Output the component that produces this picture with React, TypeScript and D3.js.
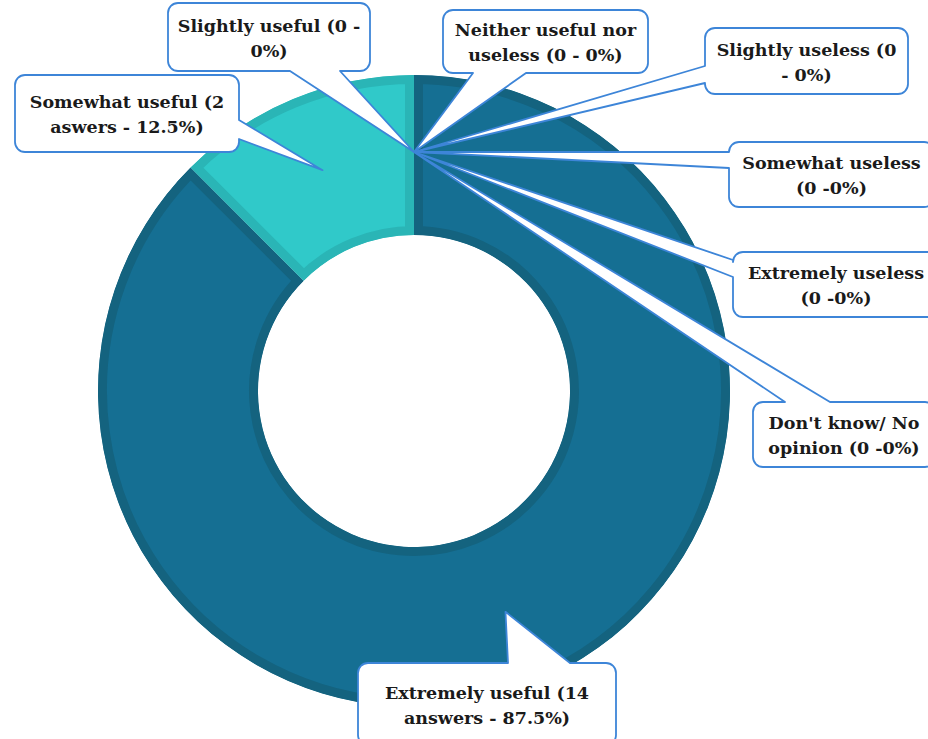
import React from "react";
import * as d3 from "d3";

// answers per category
const categories = [
  "Extremely useful",
  "Somewhat useful",
  "Slightly useful",
  "Neither useful nor useless",
  "Slightly useless",
  "Somewhat useless",
  "Extremely useless",
  "Don't know/ No opinion",
];
const answers = [14, 2, 0, 0, 0, 0, 0, 0];
const labelLines = [
  ["Extremely useful (14", "answers - 87.5%)"],
  ["Somewhat useful (2", "aswers - 12.5%)"],
  ["Slightly useful (0 -", "0%)"],
  ["Neither useful nor", "useless (0 - 0%)"],
  ["Slightly useless (0", "- 0%)"],
  ["Somewhat useless", "(0 -0%)"],
  ["Extremely useless", "(0 -0%)"],
  ["Don't know/ No", "opinion (0 -0%)"],
];

// callout boxes: x, y, w, h, side of the pointer, pointer base from / to
const callouts = [
  { x: 358, y: 663, w: 258, h: 82, side: "top", b1: 508, b2: 570 },
  { x: 15, y: 75, w: 224, h: 77, side: "right", b1: 120, b2: 139 },
  { x: 168, y: 3, w: 202, h: 68, side: "bottom", b1: 290, b2: 340 },
  { x: 443, y: 10, w: 205, h: 63, side: "bottom", b1: 473, b2: 526 },
  { x: 705, y: 28, w: 203, h: 66, side: "left", b1: 66, b2: 83 },
  { x: 729, y: 142, w: 205, h: 65, side: "left", b1: 152, b2: 168 },
  { x: 733, y: 252, w: 206, h: 65, side: "left", b1: 260, b2: 277 },
  { x: 753, y: 402, w: 182, h: 65, side: "top", b1: 785, b2: 830 },
];

const colors = ["#156f93", "#30c9c9", "#156f93", "#156f93", "#156f93", "#156f93", "#156f93", "#156f93"];
const edgeColors = ["#14637f", "#2ab5b6", "#14637f", "#14637f", "#14637f", "#14637f", "#14637f", "#14637f"];

const W = 928;
const H = 739;
const cx = 414;
const cy = 391;
const outerR = 316;
const innerR = 156;

function calloutPath(c: any, tip: [number, number]) {
  const { x, y, w, h, side, b1, b2 } = c;
  const r = 10;
  const p = d3.path();
  p.moveTo(x + r, y);
  if (side === "top") {
    p.lineTo(b1, y);
    p.lineTo(tip[0], tip[1]);
    p.lineTo(b2, y);
  }
  p.lineTo(x + w - r, y);
  p.arcTo(x + w, y, x + w, y + r, r);
  if (side === "right") {
    p.lineTo(x + w, b1);
    p.lineTo(tip[0], tip[1]);
    p.lineTo(x + w, b2);
  }
  p.lineTo(x + w, y + h - r);
  p.arcTo(x + w, y + h, x + w - r, y + h, r);
  if (side === "bottom") {
    p.lineTo(b2, y + h);
    p.lineTo(tip[0], tip[1]);
    p.lineTo(b1, y + h);
  }
  p.lineTo(x + r, y + h);
  p.arcTo(x, y + h, x, y + h - r, r);
  if (side === "left") {
    p.lineTo(x, b2);
    p.lineTo(tip[0], tip[1]);
    p.lineTo(x, b1);
  }
  p.lineTo(x, y + r);
  p.arcTo(x, y, x + r, y, r);
  p.closePath();
  return p.toString();
}

export default function App() {
  const pie = d3.pie<number>().sort(null).value((d) => d);
  const slices = pie(answers);
  const arc = d3.arc<d3.PieArcDatum<number>>().innerRadius(innerR).outerRadius(outerR);
  const mid = (innerR + outerR) / 2 + 3;
  const labelArc = d3.arc<d3.PieArcDatum<number>>().innerRadius(mid).outerRadius(mid);

  return (
    <svg
      width={W}
      height={H}
      style={{ position: "absolute", left: 0, top: 0, background: "#fff" }}
      fontFamily="'DejaVu Serif', serif"
    >
      <g transform={`translate(${cx},${cy})`}>
        <defs>
          {slices.map((s, i) =>
            s.value > 0 ? (
              <clipPath id={`clip${i}`} key={i}>
                <path d={arc(s) || ""} />
              </clipPath>
            ) : null
          )}
        </defs>
        {slices.map((s, i) =>
          s.value > 0 ? (
            <path
              key={i}
              d={arc(s) || ""}
              fill={colors[i]}
              stroke={edgeColors[i]}
              strokeWidth={18}
              clipPath={`url(#clip${i})`}
            />
          ) : null
        )}
      </g>
      {slices.map((s, i) => {
        const c = labelArc.centroid(s);
        const tip: [number, number] = [cx + c[0], cy + c[1]];
        const box = callouts[i];
        const mx = box.x + box.w / 2;
        const my = box.y + box.h / 2 + 1;
        return (
          <g key={categories[i]}>
            <path d={calloutPath(box, tip)} fill="#fff" stroke="#3d85d8" strokeWidth={1.8} strokeLinejoin="round" />
            {labelLines[i].map((t, j) => (
              <text
                key={j}
                x={mx}
                y={my + (j === 0 ? -12.5 : 12.5)}
                textAnchor="middle"
                dominantBaseline="central"
                fontSize={17.5}
                fontWeight="bold"
                fill="#1a1a1a"
              >
                {t}
              </text>
            ))}
          </g>
        );
      })}
    </svg>
  );
}
